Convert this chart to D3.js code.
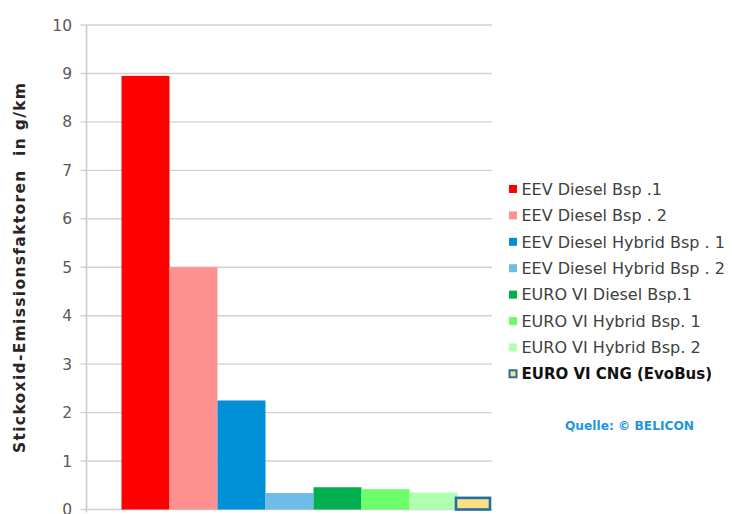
<!DOCTYPE html>
<html>
<head>
<meta charset="utf-8">
<script src="https://cdn.jsdelivr.net/npm/d3@7"></script>
<style>
  html, body { margin: 0; padding: 0; background: #fff; }
  svg { display: block; }
</style>
</head>
<body>
<svg id="chart" width="732" height="514"></svg>
<script>
// NOx emission factors of city buses (g/km)
const series = [
  "EEV Diesel Bsp .1",
  "EEV Diesel Bsp . 2",
  "EEV Diesel Hybrid Bsp . 1",
  "EEV Diesel Hybrid Bsp . 2",
  "EURO VI Diesel Bsp.1",
  "EURO VI Hybrid Bsp. 1",
  "EURO VI Hybrid Bsp. 2",
  "EURO VI CNG (EvoBus)"
];
const values = [8.95, 5.0, 2.25, 0.34, 0.46, 0.42, 0.35, 0.24];
const colors = ["#ff0000", "#ff9090", "#0090d8", "#70bce8", "#00b050", "#6cff6c", "#b0ffb0", "#ffdf80"];
const yTicks = [0, 1, 2, 3, 4, 5, 6, 7, 8, 9, 10];
const yTitle = "Stickoxid-Emissionsfaktoren  in g/km";
const sourceNote = "Quelle: \u00a9 BELICON";

const svg = d3.select("#chart");

const plot = { left: 86.5, right: 492, top: 25, bottom: 509.5 };

const y = d3.scaleLinear().domain([0, 10]).range([plot.bottom, plot.top]);
const x = d3.scaleBand().domain(series).range([121.5, 121.5 + 8 * 48]).padding(0);

// horizontal gridlines with short ticks left of the axis
svg.append("g")
  .selectAll("line")
  .data(yTicks)
  .join("line")
  .attr("x1", plot.left - 6)
  .attr("x2", plot.right)
  .attr("y1", d => y(d))
  .attr("y2", d => y(d))
  .attr("stroke", "#d2d2d2")
  .attr("stroke-width", 1.4);

// y axis line
svg.append("line")
  .attr("x1", plot.left).attr("x2", plot.left)
  .attr("y1", plot.top).attr("y2", plot.bottom + 3)
  .attr("stroke", "#cfcfcf")
  .attr("stroke-width", 1.8);

// tick labels
svg.append("g")
  .selectAll("text")
  .data(yTicks)
  .join("text")
  .attr("x", 72)
  .attr("y", d => y(d))
  .attr("dy", "0.36em")
  .attr("text-anchor", "end")
  .attr("font-family", "'DejaVu Sans', Verdana, sans-serif")
  .attr("font-size", 15.5)
  .attr("fill", "#595959")
  .text(d => d);

// bars
const bars = series.map((s, i) => ({ s, v: values[i], c: colors[i], i }));
const last = bars.length - 1;
svg.append("g")
  .selectAll("rect")
  .data(bars)
  .join("rect")
  .attr("x", d => d.i === last ? x(d.s) - 1.5 : x(d.s))
  .attr("y", d => y(d.v))
  .attr("width", d => d.i === last ? Math.min(x.bandwidth(), plot.right - x(d.s)) - 0.5 : x.bandwidth())
  .attr("height", d => y(0) - y(d.v))
  .attr("fill", d => d.c)
  .attr("stroke", d => d.i === last ? "#1f6ea6" : "none")
  .attr("stroke-width", d => d.i === last ? 2.6 : 0);

// y axis title
svg.append("text")
  .attr("transform", "translate(25,268) rotate(-90)")
  .attr("text-anchor", "middle")
  .attr("font-family", "'DejaVu Sans', Verdana, sans-serif")
  .attr("font-weight", "bold")
  .attr("font-size", 15.5)
  .attr("fill", "#262626")
  .attr("xml:space", "preserve")
  .attr("textLength", 370)
  .attr("lengthAdjust", "spacing")
  .text(yTitle);

// legend
const legendTop = 189;
const legendStep = 26.4;
const lg = svg.append("g");
const rows = lg.selectAll("g")
  .data(bars)
  .join("g")
  .attr("transform", d => `translate(509,${legendTop + d.i * legendStep})`);
rows.append("rect")
  .attr("x", d => d.i === last ? 0.5 : 0)
  .attr("y", d => d.i === last ? -3.5 : -4)
  .attr("width", d => d.i === last ? 7 : 8)
  .attr("height", d => d.i === last ? 7 : 8)
  .attr("fill", d => d.c)
  .attr("stroke", d => d.i === last ? "#1f6ea6" : "none")
  .attr("stroke-width", 2);
rows.append("text")
  .attr("x", 12.5)
  .attr("dy", "0.36em")
  .attr("font-family", "'DejaVu Sans', Verdana, sans-serif")
  .attr("font-size", d => d.i === last ? 15 : 16)
  .attr("font-weight", d => d.i === last ? "bold" : "normal")
  .attr("fill", d => d.i === last ? "#111" : "#404040")
  .text(d => d.s);

// source note
svg.append("text")
  .attr("x", 565)
  .attr("y", 426)
  .attr("dy", "0.36em")
  .attr("font-family", "'DejaVu Sans', Verdana, sans-serif")
  .attr("font-weight", "bold")
  .attr("font-size", 11.5)
  .attr("fill", "#2196dc")
  .attr("textLength", 129)
  .attr("lengthAdjust", "spacingAndGlyphs")
  .text(sourceNote);
</script>
</body>
</html>
